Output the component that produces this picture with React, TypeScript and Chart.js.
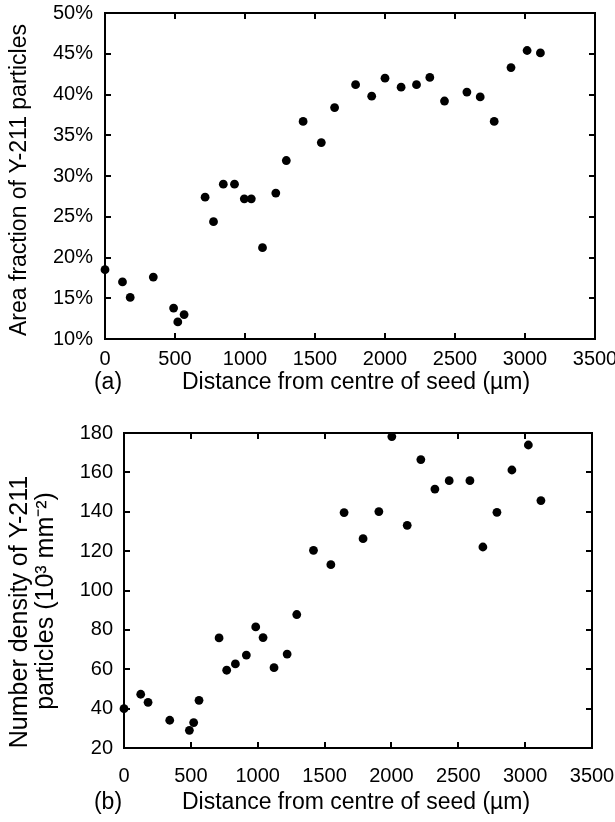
import React, { useEffect, useRef } from "react";
import { Chart, registerables } from "chart.js";

Chart.register(...registerables);

// ---------- data ----------
const distanceA = [0, 125, 180, 345, 490, 520, 565, 715, 775, 845, 925, 995, 1045, 1125, 1220, 1295, 1415, 1545, 1640, 1790, 1905, 2000, 2115, 2225, 2320, 2425, 2585, 2680, 2780, 2900, 3015, 3110];
const areaFraction = [18.5, 17.0, 15.1, 17.6, 13.8, 12.1, 13.0, 27.4, 24.4, 29.0, 29.0, 27.2, 27.2, 21.2, 27.9, 31.9, 36.7, 34.1, 38.4, 41.2, 39.8, 42.0, 40.9, 41.2, 42.1, 39.2, 40.3, 39.7, 36.7, 43.3, 45.4, 45.1];

const distanceB = [0, 125, 180, 342, 489, 521, 561, 711, 768, 833, 915, 985, 1040, 1122, 1220, 1292, 1417, 1547, 1646, 1788, 1906, 2003, 2118, 2220, 2325, 2432, 2587, 2684, 2789, 2901, 3024, 3118];
const numberDensity = [40.0, 47.3, 43.2, 34.1, 29.0, 32.9, 44.2, 75.9, 59.5, 62.7, 67.2, 81.5, 76.1, 60.8, 67.7, 87.8, 120.4, 113.1, 139.6, 126.3, 140.1, 178.2, 133.1, 166.5, 151.5, 155.8, 155.8, 122.1, 139.7, 161.2, 173.9, 145.7];

const xTickValues = [0, 500, 1000, 1500, 2000, 2500, 3000, 3500];
const yTickValuesA = [10, 15, 20, 25, 30, 35, 40, 45, 50];
const yTickValuesB = [20, 40, 60, 80, 100, 120, 140, 160, 180];

const xTitle = "Distance from centre of seed (\u00b5m)";
const yTitleA = ["Area fraction of Y-211 particles"];
const yTitleB = ["Number density of Y-211", "particles (10\u00b3 mm\u207b\u00b2)"];
const panelA = "(a)";
const panelB = "(b)";

const FONT = '"Liberation Sans", Arial, Helvetica, sans-serif';
const W = 615;
const H = 411;

type PanelSpec = {
  xs: number[];
  ys: number[];
  yTicks: number[];
  yFmt: (v: number) => string;
  plot: { left: number; right: number; top: number; bottom: number };
  yLabelPad: number;
  xLabelPad: number;
  yTitle: string[];
  yTitleSize: number;
  yTitlePos: { x: number; y: number }[];
  panel: string;
  panelX: number;
  xTitleX: number;
  titleY: number;
};

function makePlugin(spec: PanelSpec) {
  return {
    id: "frameTicks",
    beforeDatasetsDraw(chart: any) {
      const { ctx, chartArea } = chart;
      const { left, right, top, bottom } = chartArea;
      const xs = chart.scales.x;
      const ys = chart.scales.y;
      ctx.save();
      ctx.strokeStyle = "#000";
      ctx.lineWidth = 2;
      ctx.strokeRect(left, top, right - left, bottom - top);
      const tl = 6;
      ctx.beginPath();
      for (const v of xTickValues) {
        const px = Math.round(xs.getPixelForValue(v));
        ctx.moveTo(px, bottom);
        ctx.lineTo(px, bottom - tl);
        ctx.moveTo(px, top);
        ctx.lineTo(px, top + tl);
      }
      for (const v of spec.yTicks) {
        const py = Math.round(ys.getPixelForValue(v));
        ctx.moveTo(left, py);
        ctx.lineTo(left + tl, py);
        ctx.moveTo(right, py);
        ctx.lineTo(right - tl, py);
      }
      ctx.stroke();
      ctx.restore();
    },
    afterDraw(chart: any) {
      const { ctx } = chart;
      ctx.save();
      ctx.fillStyle = "#000";
      ctx.font = `23px ${FONT}`;
      ctx.textBaseline = "middle";
      ctx.textAlign = "left";
      ctx.fillText(xTitle, spec.xTitleX, spec.titleY);
      ctx.textAlign = "center";
      ctx.fillText(spec.panel, spec.panelX, spec.titleY);
      ctx.font = `${spec.yTitleSize}px ${FONT}`;
      spec.yTitle.forEach((line, i) => {
        const p = spec.yTitlePos[i];
        ctx.save();
        ctx.translate(p.x, p.y);
        ctx.rotate(-Math.PI / 2);
        ctx.textAlign = "center";
        ctx.textBaseline = "middle";
        ctx.fillText(line, 0, 0);
        ctx.restore();
      });
      ctx.restore();
    },
  };
}

function Panel({ spec }: { spec: PanelSpec }) {
  const ref = useRef<HTMLCanvasElement | null>(null);
  useEffect(() => {
    if (!ref.current) return;
    const { plot } = spec;
    const chart = new Chart(ref.current, {
      type: "scatter",
      data: {
        datasets: [
          {
            data: spec.xs.map((x, i) => ({ x, y: spec.ys[i] })),
            backgroundColor: "#000",
            borderColor: "#000",
            pointRadius: 4.4,
            pointHoverRadius: 4.4,
            borderWidth: 0,
            clip: false as any,
          },
        ],
      },
      options: {
        animation: false,
        responsive: false,
        events: [],
        layout: {
          padding: { left: 0, top: plot.top, right: W - plot.right, bottom: 0 },
        },
        plugins: {
          legend: { display: false },
          tooltip: { enabled: false },
        },
        scales: {
          x: {
            type: "linear",
            min: 0,
            max: 3500,
            afterBuildTicks: (s: any) => {
              s.ticks = xTickValues.map((v) => ({ value: v }));
            },
            afterFit: (s: any) => {
              s.height = H - plot.bottom;
              s.paddingLeft = 0;
              s.paddingRight = 0;
            },
            grid: { display: false, drawTicks: false },
            border: { display: false },
            ticks: {
              color: "#000",
              font: { family: FONT, size: 20 },
              padding: spec.xLabelPad,
              maxRotation: 0,
              autoSkip: false,
              callback: (v: any) => String(v),
            },
          },
          y: {
            type: "linear",
            min: spec.yTicks[0],
            max: spec.yTicks[spec.yTicks.length - 1],
            afterBuildTicks: (s: any) => {
              s.ticks = spec.yTicks.map((v) => ({ value: v }));
            },
            afterFit: (s: any) => {
              s.width = plot.left;
              s.paddingTop = 0;
              s.paddingBottom = 0;
            },
            grid: { display: false, drawTicks: false },
            border: { display: false },
            ticks: {
              color: "#000",
              font: { family: FONT, size: 20 },
              padding: spec.yLabelPad,
              autoSkip: false,
              callback: (v: any) => spec.yFmt(Number(v)),
            },
          },
        },
      },
      plugins: [makePlugin(spec)],
    });
    return () => chart.destroy();
  }, [spec]);
  return <canvas ref={ref} width={W} height={H} style={{ display: "block", width: W, height: H }} />;
}

const specA: PanelSpec = {
  xs: distanceA,
  ys: areaFraction,
  yTicks: yTickValuesA,
  yFmt: (v) => `${v}%`,
  plot: { left: 105, right: 595, top: 13, bottom: 339 },
  yLabelPad: 12,
  xLabelPad: 8,
  yTitle: yTitleA,
  yTitleSize: 23,
  yTitlePos: [{ x: 20, y: 180 }],
  panel: panelA,
  panelX: 108,
  xTitleX: 182,
  titleY: 383,
};

const specB: PanelSpec = {
  xs: distanceB,
  ys: numberDensity,
  yTicks: yTickValuesB,
  yFmt: (v) => `${v}`,
  plot: { left: 124, right: 592, top: 22, bottom: 337 },
  yLabelPad: 11,
  xLabelPad: 16,
  yTitle: yTitleB,
  yTitleSize: 25,
  yTitlePos: [
    { x: 20, y: 201 },
    { x: 46, y: 190 },
  ],
  panel: panelB,
  panelX: 108,
  xTitleX: 182,
  titleY: 392,
};

export default function App() {
  return (
    <div style={{ position: "absolute", left: 0, top: 0, width: W, height: 822, background: "#fff" }}>
      <Panel spec={specA} />
      <Panel spec={specB} />
    </div>
  );
}
